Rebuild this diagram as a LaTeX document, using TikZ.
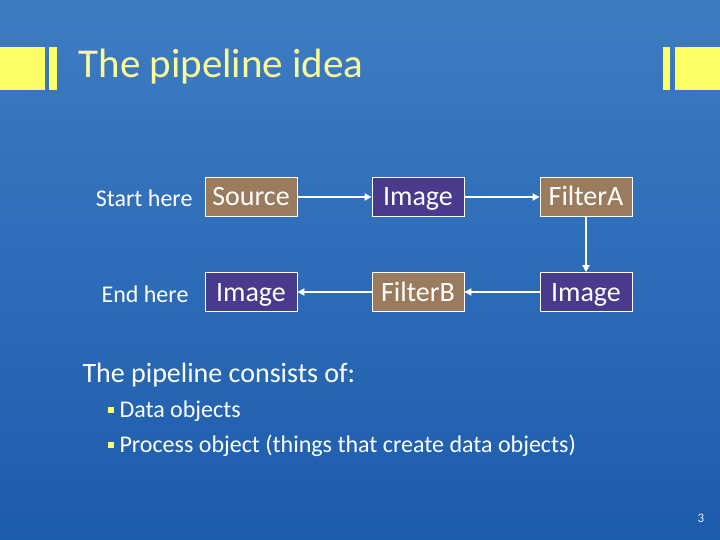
\documentclass[tikz,border=0pt]{standalone}
\usepackage{fontspec}
\setmainfont{Carlito}
\usetikzlibrary{arrows.meta,positioning}
\definecolor{bgtop}{RGB}{62,124,194}
\definecolor{bgbot}{RGB}{28,92,172}
\definecolor{bar}{RGB}{255,255,102}
\definecolor{titletext}{RGB}{250,250,150}
\definecolor{procbox}{RGB}{155,123,94}
\definecolor{databox}{RGB}{74,58,142}

\begin{document}
\begin{tikzpicture}[
  x=1pt, y=-1pt,
  every node/.style={text=white},
  stagebox/.style={draw=white, line width=0.8pt, minimum width=92pt,
    minimum height=39pt, inner sep=0pt, text height=20pt, text depth=2pt,
    font=\fontsize{28}{30}\selectfont},
  procstage/.style={stagebox, fill=procbox},
  datastage/.style={stagebox, fill=databox},
  flow/.style={draw=white, line width=1.8pt, -{Triangle[length=7pt,width=7pt]}},
  sidelabel/.style={anchor=east, font=\fontsize{24}{26}\selectfont},
  >=Stealth
]
% background
\shade[top color=bgtop, bottom color=bgbot] (0,0) rectangle (720,540);
\useasboundingbox (0,0) rectangle (720,540);

% title bars
\fill[bar] (0,47) rectangle (45,90);
\fill[bar] (49,47) rectangle (57,90);
\fill[bar] (663,47) rectangle (670,90);
\fill[bar] (675,47) rectangle (720,90);
\node[anchor=west, text=titletext, font=\fontsize{41}{44}\selectfont]
  (title) at (75,67) {The pipeline idea};

% pipeline stages
\node[procstage] (source) at (251,197) {Source};
\node[datastage] (img1) at (418,197) {Image};
\node[procstage] (filtera) at (586,197) {FilterA};
\node[datastage] (img2) at (586,292) {Image};
\node[procstage] (filterb) at (418,292) {FilterB};
\node[datastage] (img3) at (251,292) {Image};

\node[sidelabel] (start) at (196,198) {Start here};
\node[sidelabel] (end) at (192,294) {End here};

\draw[flow] (source) -- (img1);
\draw[flow] (img1) -- (filtera);
\draw[flow] (filtera) -- (img2);
\draw[flow] (img2) -- (filterb);
\draw[flow] (filterb) -- (img3);

% bullet text
\node[anchor=west, font=\fontsize{28}{30}\selectfont]
  (consists) at (79,375) {The pipeline consists of:};
\fill[bar] (108,407) rectangle (114,413) coordinate (b1);
\node[anchor=west, font=\fontsize{24}{26}\selectfont]
  (dataobj) at (116,411) {Data objects};
\fill[bar] (108,442) rectangle (114,448) coordinate (b2);
\node[anchor=west, font=\fontsize{24}{26}\selectfont]
  (procobj) at (116,446) {Process object (things that create data objects)};

% page number
\node[font=\fontsize{13}{14}\selectfont, text=white!85!cyan] (page) at (701,518) {3};
\end{tikzpicture}
\end{document}
